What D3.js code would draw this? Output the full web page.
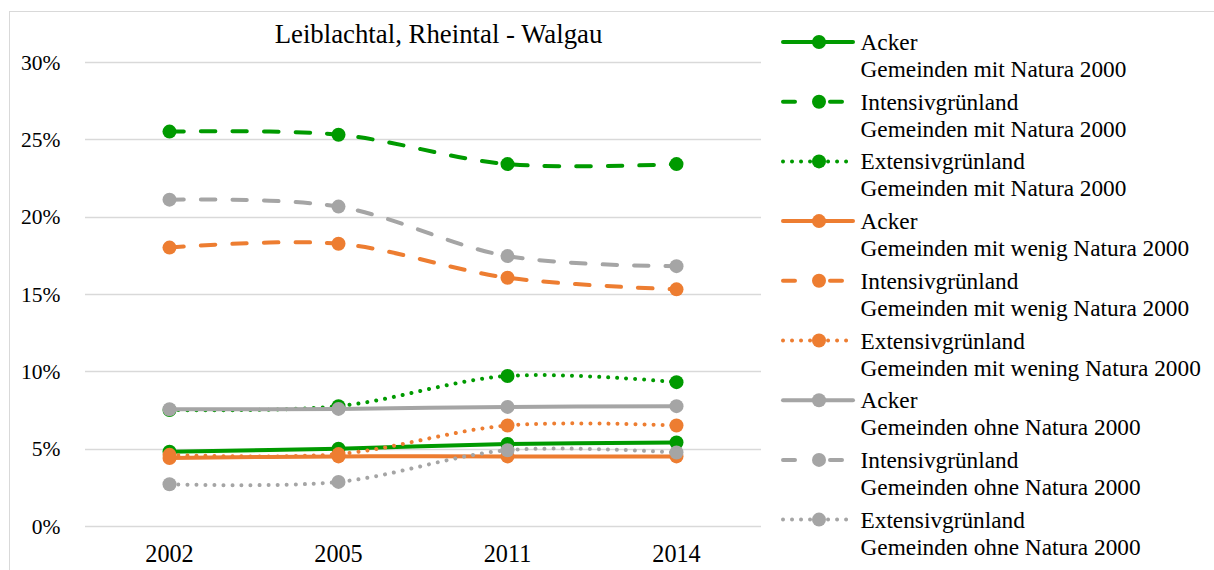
<!DOCTYPE html>
<html>
<head>
<meta charset="utf-8">
<script src="https://cdn.jsdelivr.net/npm/d3@7"></script>
<style>
  body { margin: 0; background: #fff; }
  svg text { font-family: "Liberation Serif", "Times New Roman", serif !important; fill: #000; }
</style>
</head>
<body>
<div id="chart"></div>
<script>
// years on the x axis
var years = ["2002", "2005", "2011", "2014"];
var yTicks = [0, 5, 10, 15, 20, 25, 30];
var title = "Leiblachtal, Rheintal - Walgau";

// shares in percent
var ackerMit = [4.8, 5.0, 5.3, 5.4];
var intensivMit = [25.5, 25.3, 23.4, 23.4];
var extensivMit = [7.5, 7.75, 9.7, 9.3];
var ackerWenig = [4.4, 4.5, 4.5, 4.5];
var intensivWenig = [18.0, 18.25, 16.05, 15.3];
var extensivWenig = [4.6, 4.65, 6.5, 6.5];
var ackerOhne = [7.55, 7.57, 7.7, 7.75];
var intensivOhne = [21.1, 20.65, 17.45, 16.8];
var extensivOhne = [2.7, 2.85, 4.9, 4.75];

var series = [
    { name: "Acker", group: "Gemeinden mit Natura 2000", color: "#009a00", dash: "solid", values: ackerMit },
    { name: "Intensivgrünland", group: "Gemeinden mit Natura 2000", color: "#009a00", dash: "dash", values: intensivMit },
    { name: "Extensivgrünland", group: "Gemeinden mit Natura 2000", color: "#009a00", dash: "dot", values: extensivMit },
    { name: "Acker", group: "Gemeinden mit wenig Natura 2000", color: "#ed7d31", dash: "solid", values: ackerWenig },
    { name: "Intensivgrünland", group: "Gemeinden mit wenig Natura 2000", color: "#ed7d31", dash: "dash", values: intensivWenig },
    { name: "Extensivgrünland", group: "Gemeinden mit wening Natura 2000", color: "#ed7d31", dash: "dot", values: extensivWenig },
    { name: "Acker", group: "Gemeinden ohne Natura 2000", color: "#a5a5a5", dash: "solid", values: ackerOhne },
    { name: "Intensivgrünland", group: "Gemeinden ohne Natura 2000", color: "#a5a5a5", dash: "dash", values: intensivOhne },
    { name: "Extensivgrünland", group: "Gemeinden ohne Natura 2000", color: "#a5a5a5", dash: "dot", values: extensivOhne }
];

var dashes = { solid: null, dash: "14.5,17", dot: "0.01,9" };

var width = 1214, height = 570,
    lineWidth = 4,
    dotRadius = 7;

var svg = d3.select("#chart").append("svg")
    .attr("width", width)
    .attr("height", height)
    .attr("font-family", "Liberation Serif, serif");

// chart frame (right and bottom edges lie outside the picture)
svg.append("rect")
    .attr("x", 9.5).attr("y", 11.5)
    .attr("width", 1400).attr("height", 700)
    .attr("fill", "none")
    .attr("stroke", "#d9d9d9");

var x = d3.scaleBand().domain(years).range([85, 761]);
var y = d3.scaleLinear().domain([0, 30]).range([526, 62]);

svg.append("text")
    .attr("x", 438.5).attr("y", 43)
    .attr("text-anchor", "middle")
    .style("font-size", "26.8px")
    .text(title);

// gridlines
svg.append("g").selectAll("line")
    .data(yTicks)
    .enter().append("line")
    .attr("x1", 85).attr("x2", 761)
    .attr("y1", function (d) { return Math.round(y(d)) + 0.5; })
    .attr("y2", function (d) { return Math.round(y(d)) + 0.5; })
    .attr("stroke", "#d9d9d9")
    .attr("stroke-width", 1.5);

var yAxis = svg.append("g")
    .attr("transform", "translate(60.5,0)")
    .call(d3.axisLeft(y).tickValues(yTicks).tickSize(0).tickPadding(0).tickFormat(function (d) { return d + "%"; }));
yAxis.select(".domain").remove();
yAxis.selectAll("text").style("font-size", "21.5px").attr("dy", "0.33em");

var xAxis = svg.append("g")
    .attr("transform", "translate(0,526)")
    .call(d3.axisBottom(x).tickSize(0).tickPadding(0));
xAxis.select(".domain").remove();
xAxis.selectAll("text").style("font-size", "24.2px").attr("y", 36).attr("dy", 0);

var line = d3.line()
    .x(function (d, i) { return x(years[i]) + x.bandwidth() / 2; })
    .y(function (d) { return y(d); })
    .curve(d3.curveCatmullRom.alpha(0.5));

var plot = svg.append("g");
series.forEach(function (s) {
    var g = plot.append("g");
    g.append("path")
        .datum(s.values)
        .attr("d", line)
        .attr("fill", "none")
        .attr("stroke", s.color)
        .attr("stroke-width", lineWidth)
        .attr("stroke-linecap", "round")
        .attr("stroke-dasharray", dashes[s.dash]);
    g.selectAll("circle")
        .data(s.values)
        .enter().append("circle")
        .attr("cx", function (d, i) { return x(years[i]) + x.bandwidth() / 2; })
        .attr("cy", function (d) { return y(d); })
        .attr("r", dotRadius)
        .attr("fill", s.color);
});

// legend
var legend = svg.append("g").attr("transform", "translate(783,42)");
var entry = legend.selectAll("g")
    .data(series)
    .enter().append("g")
    .attr("transform", function (d, i) { return "translate(0," + (i * 59.7) + ")"; });

entry.append("line")
    .attr("x1", 0).attr("x2", 70)
    .attr("stroke", function (d) { return d.color; })
    .attr("stroke-width", lineWidth)
    .attr("stroke-linecap", "round")
    .attr("stroke-dasharray", function (d) { return d.dash === "dash" ? "12,35" : dashes[d.dash]; });
entry.append("circle")
    .attr("cx", 36).attr("r", dotRadius)
    .attr("fill", function (d) { return d.color; });
entry.append("text")
    .attr("x", 77.5).attr("y", 8)
    .style("font-size", "23.3px")
    .text(function (d) { return d.name; });
entry.append("text")
    .attr("x", 77.5).attr("y", 35)
    .style("font-size", "23.3px")
    .text(function (d) { return d.group; });
</script>
</body>
</html>
